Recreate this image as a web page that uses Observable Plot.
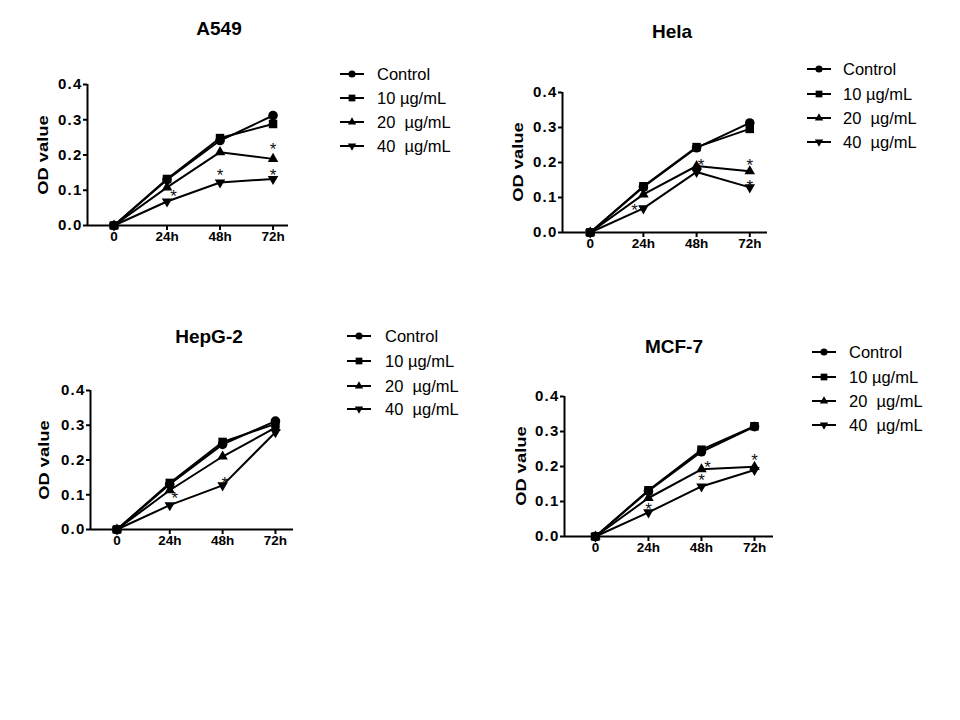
<!DOCTYPE html>
<html>
<head>
<meta charset="utf-8">
<script src="https://cdn.jsdelivr.net/npm/d3@7"></script>
<script src="https://cdn.jsdelivr.net/npm/@observablehq/plot@0.6"></script>
<style>
  html, body { margin: 0; padding: 0; background: #fff; }
  #page { position: relative; width: 960px; height: 720px; overflow: hidden; background: #fff;
          font-family: "Liberation Sans", Arial, sans-serif; color: #000; }
  .abs { position: absolute; }
  .title { font-weight: bold; font-size: 19px; line-height: 1; transform: translate(-50%, -50%); white-space: nowrap; }
  .ylab { font-weight: bold; font-size: 15px; line-height: 1; white-space: nowrap;
          transform: translate(-50%, -50%) rotate(-90deg) scaleX(1.22); }
  .legrow { display: flex; align-items: center; height: 20px; transform: translateY(-50%); white-space: pre; font-size: 16.5px; }
</style>
</head>
<body>
<div id="page"></div>
<script>
// ---- data ----
const times = [0, 24, 48, 72];
const timeLabels = ["0", "24h", "48h", "72h"];
const groups = ["Control", "10 µg/mL", "20  µg/mL", "40  µg/mL"];
const yTicks = [0, 0.1, 0.2, 0.3, 0.4];

const a549Control = [0, 0.130, 0.241, 0.312];
const a549D10     = [0, 0.132, 0.248, 0.288];
const a549D20     = [0, 0.108, 0.208, 0.189];
const a549D40     = [0, 0.068, 0.122, 0.132];
const a549Stars   = [[27, 0.094], [48, 0.154], [72, 0.227], [72, 0.154]];

const helaControl = [0, 0.130, 0.242, 0.313];
const helaD10     = [0, 0.132, 0.244, 0.296];
const helaD20     = [0, 0.109, 0.190, 0.175];
const helaD40     = [0, 0.069, 0.173, 0.129];
const helaStars   = [[20, 0.076], [50, 0.205], [72, 0.205], [72, 0.145]];

const hepg2Control = [0, 0.130, 0.245, 0.312];
const hepg2D10     = [0, 0.134, 0.252, 0.304];
const hepg2D20     = [0, 0.113, 0.210, 0.293];
const hepg2D40     = [0, 0.070, 0.127, 0.280];
const hepg2Stars   = [[26.3, 0.101], [49, 0.146]];

const mcf7Control = [0, 0.130, 0.242, 0.314];
const mcf7D10     = [0, 0.132, 0.248, 0.315];
const mcf7D20     = [0, 0.110, 0.192, 0.199];
const mcf7D40     = [0, 0.069, 0.143, 0.190];
const mcf7Stars   = [[24, 0.091], [50.7, 0.209], [48, 0.174], [72, 0.229]];

// ---- layout ----
const symbols = ["circle", "square", "triangle", "triangle"];
const radii = [4.8, 4.8, 3.9, 3.9];
const rotations = [0, 0, 0, 180];

const panels = [
  {title: "A549", series: [a549Control, a549D10, a549D20, a549D40], stars: a549Stars,
   axisX: 87, right: 288, top: 84, bottom: 225, xDomain: [-12, 79], titlePos: [219, 28], labOff: 45,
   legend: {line: 340, text: 377, rows: [74, 98, 122, 146]}},
  {title: "Hela", series: [helaControl, helaD10, helaD20, helaD40], stars: helaStars,
   axisX: 562, right: 767, top: 92, bottom: 232, xDomain: [-12.5, 80], titlePos: [672, 31], labOff: 45,
   legend: {line: 807, text: 843, rows: [69, 94, 118, 142]}},
  {title: "HepG-2", series: [hepg2Control, hepg2D10, hepg2D20, hepg2D40], stars: hepg2Stars,
   axisX: 90, right: 293, top: 390, bottom: 529, xDomain: [-12, 80.2], titlePos: [209, 336], labOff: 47,
   legend: {line: 347, text: 385, rows: [336, 361, 386, 409]}},
  {title: "MCF-7", series: [mcf7Control, mcf7D10, mcf7D20, mcf7D40], stars: mcf7Stars,
   axisX: 564, right: 773, top: 396, bottom: 536, xDomain: [-14, 80.6], titlePos: [674, 346], labOff: 44,
   legend: {line: 812, text: 849, rows: [352, 377, 401, 425]}}
];

const page = document.getElementById("page");
const mL = 60, mR = 10, mT = 10, mB = 30;

for (const p of panels) {
  const rows = groups.flatMap((g, i) => times.map((t, j) => ({group: g, gi: i, time: t, value: p.series[i][j]})));
  const [x0, x1] = p.xDomain;
  const innerW = p.right - p.axisX, innerH = p.bottom - p.top;
  const chart = Plot.plot({
    width: innerW + mL + mR,
    height: innerH + mT + mB,
    marginLeft: mL, marginRight: mR, marginTop: mT, marginBottom: mB,
    x: {domain: p.xDomain, axis: null},
    y: {domain: [0, 0.4], axis: null},
    style: {fontFamily: '"Liberation Sans", Arial, sans-serif', fontSize: "14px", fontWeight: "bold",
            background: "transparent", color: "black", overflow: "visible"},
    marks: [
      Plot.axisX({ticks: times, tickFormat: d => timeLabels[times.indexOf(d)], tickSize: 5, tickPadding: 1,
                  strokeWidth: 2, fontSize: 13.5, fontWeight: "bold", label: null}),
      Plot.axisY({ticks: yTicks, tickFormat: d => d.toFixed(1), tickSize: 4, tickPadding: 1,
                  strokeWidth: 2, fontSize: 15, fontWeight: "bold", label: null}),
      Plot.ruleY([0], {x1: x0, x2: x1, stroke: "black", strokeWidth: 2}),
      Plot.ruleX([x0], {y1: 0, y2: 0.4, stroke: "black", strokeWidth: 2}),
      Plot.line(rows, {x: "time", y: "value", z: "group", stroke: "black", strokeWidth: 2}),
      ...groups.map((g, i) => Plot.dot(rows.filter(d => d.gi === i), {
        x: "time", y: "value", symbol: symbols[i], r: radii[i], rotate: rotations[i], fill: "black", stroke: "none"
      })),
      Plot.text(p.stars, {x: d => d[0], y: d => d[1], text: () => "*", fontSize: 17, fontWeight: "normal", dy: 4.5, fill: "#111"})
    ]
  });
  d3.select(chart).selectAll('g[aria-label="y-axis tick label"] text').style("letter-spacing", "1.2px");
  chart.style.position = "absolute";
  chart.style.left = (p.axisX - mL) + "px";
  chart.style.top = (p.top - mT) + "px";
  page.appendChild(chart);

  const t = document.createElement("div");
  t.className = "abs title";
  t.textContent = p.title;
  t.style.left = p.titlePos[0] + "px";
  t.style.top = p.titlePos[1] + "px";
  page.appendChild(t);

  const yl = document.createElement("div");
  yl.className = "abs ylab";
  yl.textContent = "OD value";
  yl.style.left = (p.axisX - p.labOff) + "px";
  yl.style.top = ((p.top + p.bottom) / 2) + "px";
  page.appendChild(yl);

  // legend
  const legSyms = [d3.symbolCircle, d3.symbolSquare, d3.symbolTriangle, d3.symbolTriangle];
  const legSizes = [40, 45, 30, 30];
  groups.forEach((g, i) => {
    const row = document.createElement("div");
    row.className = "abs legrow";
    row.style.left = p.legend.line + "px";
    row.style.top = p.legend.rows[i] + "px";
    const w = p.legend.text - p.legend.line;
    const svg = d3.create("svg").attr("width", w).attr("height", 14).style("flex", "none");
    svg.append("line").attr("x1", 0).attr("x2", 24).attr("y1", 7).attr("y2", 7)
      .attr("stroke", "black").attr("stroke-width", 2);
    svg.append("path").attr("d", d3.symbol(legSyms[i], legSizes[i])())
      .attr("transform", `translate(12,7) rotate(${rotations[i]})`).attr("fill", "black");
    row.appendChild(svg.node());
    const span = document.createElement("span");
    span.textContent = g;
    row.appendChild(span);
    page.appendChild(row);
  });
}
</script>
</body>
</html>
